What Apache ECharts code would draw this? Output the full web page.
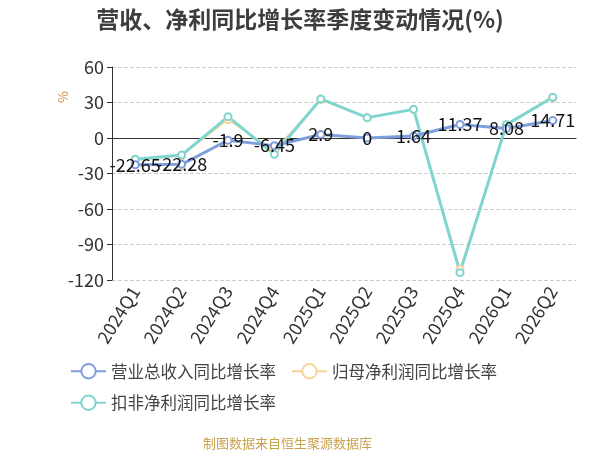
<!DOCTYPE html>
<html>
<head>
<meta charset="utf-8">
<script src="https://cdn.jsdelivr.net/npm/echarts@6/dist/echarts.min.js"></script>
<style>
  html, body { margin: 0; padding: 0; background: #fff; }
  #container { width: 600px; height: 450px; }
</style>
</head>
<body>
<div id="container"></div>
<script>
var quarters = ['2024Q1', '2024Q2', '2024Q3', '2024Q4', '2025Q1', '2025Q2', '2025Q3', '2025Q4', '2026Q1', '2026Q2'];
var revenueGrowth = [-22.65, -22.28, -1.9, -6.45, 2.9, 0, 1.64, 11.37, 8.08, 14.71];
var netProfitGrowth = [-18.5, -15, 15.5, -10.5, 32.5, 17, 24, -111, 11, 34];
var deductedGrowth = [-18, -14.4, 18, -13.8, 33, 17.2, 24.2, -113.8, 11.3, 34.4];
var yTicks = { min: -120, max: 60, interval: 30 };

var font = '"Noto Sans CJK SC", "Noto Sans", sans-serif';
var myChart = echarts.init(document.getElementById('container'));
myChart.setOption({
    backgroundColor: '#fff',
    title: [{
        text: '营收、净利同比增长率季度变动情况(%)',
        left: 'center',
        top: 3,
        textStyle: { fontSize: 23, fontWeight: 'bold', color: '#3d3d3d', fontFamily: font }
    }, {
        text: '制图数据来自恒生聚源数据库',
        left: 198,
        top: 432,
        textStyle: { fontSize: 13, fontWeight: 'normal', color: '#c9a24e', fontFamily: font }
    }],
    graphic: [{
        type: 'text',
        left: 57,
        top: 91,
        rotation: Math.PI / 2,
        style: { text: '%', fill: '#c9873a', fontSize: 13, fontFamily: font }
    }],
    legend: {
        left: 65,
        top: 358,
        width: 530,
        itemWidth: 35,
        itemHeight: 18,
        itemGap: 15,
        textStyle: { fontSize: 16.5, color: '#444', fontFamily: font },
        data: ['营业总收入同比增长率', '归母净利润同比增长率', '扣非净利润同比增长率']
    },
    grid: { left: 112, right: 24, top: 67, bottom: 170 },
    xAxis: {
        type: 'category',
        data: quarters,
        axisLine: { lineStyle: { color: '#333' } },
        axisTick: { lineStyle: { color: '#333' } },
        axisLabel: { rotate: 58, fontSize: 18, color: '#333', fontFamily: font, margin: 8 }
    },
    yAxis: {
        type: 'value',
        min: yTicks.min,
        max: yTicks.max,
        interval: yTicks.interval,
        axisLine: { show: true, lineStyle: { color: '#333' } },
        axisTick: { show: true, lineStyle: { color: '#333' } },
        axisLabel: { fontSize: 18, color: '#333', fontFamily: font },
        splitLine: { lineStyle: { type: 'dashed', color: '#ccc' } }
    },
    series: [{
        name: '营业总收入同比增长率',
        type: 'line',
        data: revenueGrowth,
        symbol: 'emptyCircle',
        symbolSize: 7,
        itemStyle: { color: '#7e9fdc' },
        lineStyle: { width: 3, color: '#7e9fdc' },
        label: { show: true, position: 'inside', fontSize: 18, color: '#111', fontFamily: font },
        z: 3
    }, {
        name: '归母净利润同比增长率',
        type: 'line',
        data: netProfitGrowth,
        symbol: 'emptyCircle',
        symbolSize: 7,
        itemStyle: { color: '#f7d39c' },
        lineStyle: { width: 1.5, color: '#f7d39c' },
        z: 2
    }, {
        name: '扣非净利润同比增长率',
        type: 'line',
        data: deductedGrowth,
        symbol: 'emptyCircle',
        symbolSize: 7,
        itemStyle: { color: '#7fd5cf' },
        lineStyle: { width: 3, color: '#7fd5cf' },
        z: 2
    }]
});
</script>
</body>
</html>
